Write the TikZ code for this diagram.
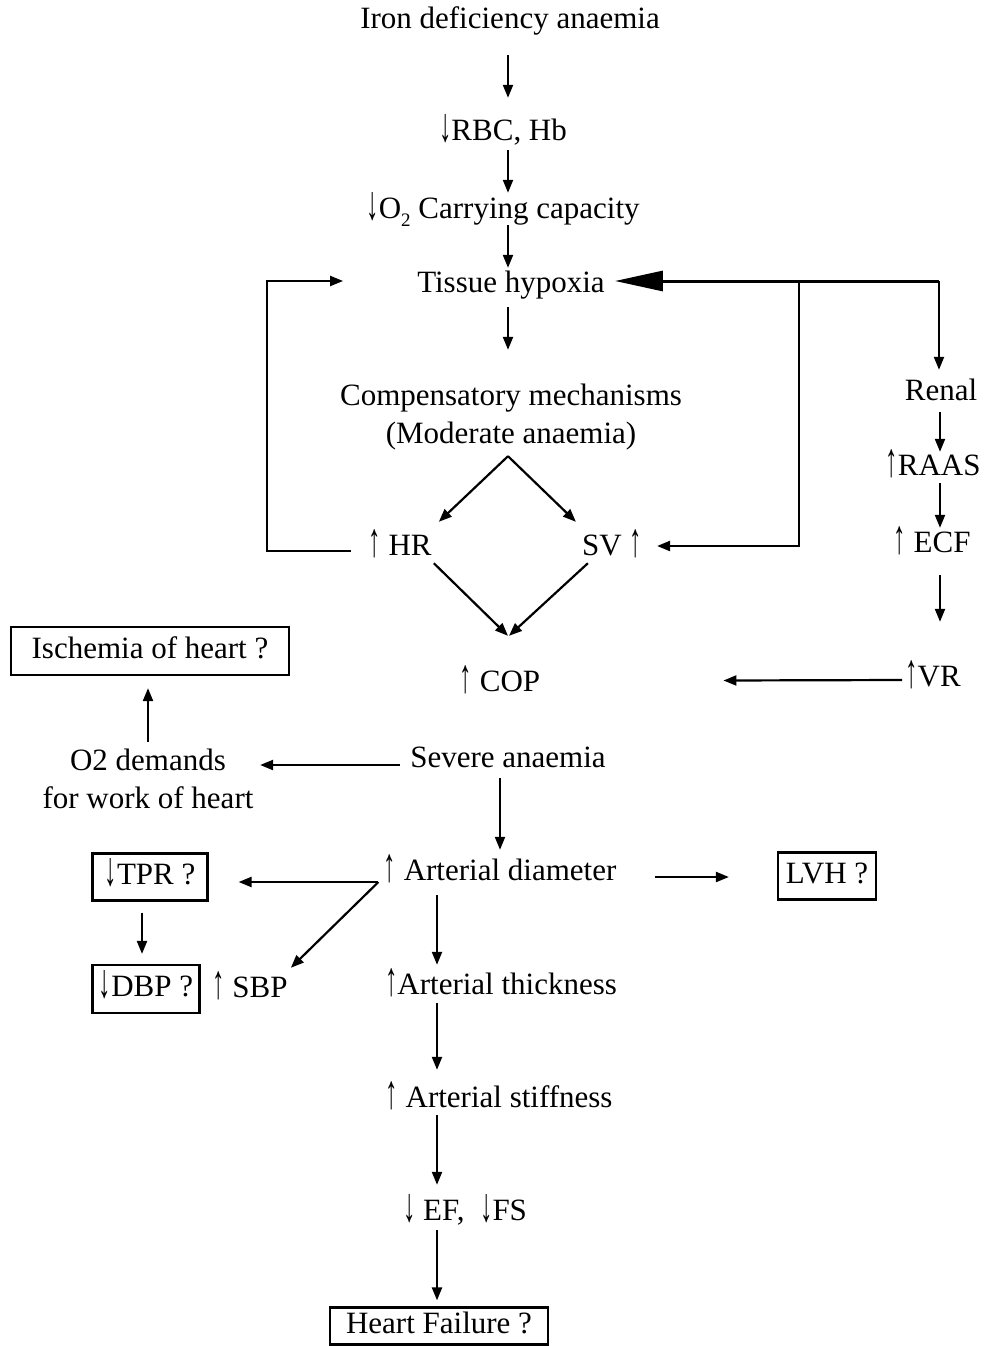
\documentclass[tikz,border=0pt]{standalone}
\usepackage{fontspec}
\usepackage{graphicx}
\setmainfont{Liberation Serif}
\usetikzlibrary{arrows.meta,calc}
\newcommand{\uparw}{\raisebox{-1.5pt}{\scalebox{0.8}[1.55]{↑}}}
\newcommand{\dnarw}{\raisebox{-1.5pt}{\scalebox{0.8}[1.55]{↓}}}
\newcommand{\lowtwo}{\raisebox{-8pt}{\fontsize{19}{22}\selectfont 2}}
\begin{document}
\begin{tikzpicture}[x=1pt,y=-1pt,
  txt/.style={inner sep=0pt, text height=21pt, text depth=7pt, font=\fontsize{31}{37}\selectfont},
  boxed/.style={txt, draw, line width=2.2pt},
  arr/.style={line width=2.2pt, -{Triangle[length=13pt,width=10pt]}},
  bigarr/.style={line width=3pt, -{Triangle[length=48pt,width=20pt]}}]
\useasboundingbox (0,0) rectangle (985,1346);
% columns
\coordinate (cA) at (508,0);
\coordinate (cB) at (500,0);
\coordinate (cC) at (437,0);
\coordinate (cR) at (940,0);
\coordinate (cL) at (142,0);
\coordinate (lc) at (267,281);
\coordinate (j1) at (939,281);
\coordinate (j2) at (799,281);
% nodes
\node[txt] (iron) at (510,22) {Iron deficiency anaemia};
\node[txt] (rbc) at (503,133) {\dnarw RBC, Hb};
\node[txt] (o2) at (503,211) {\dnarw O\lowtwo{} Carrying capacity};
\node[txt] (tissue) at (511,285) {Tissue hypoxia};
\node[txt] (comp1) at (511,398) {Compensatory mechanisms};
\node[txt] (comp2) at (511,436) {(Moderate anaemia)};
\node[txt] (hr) at (400,548) {\uparw{} HR};
\node[txt] (sv) at (612,548) {SV \uparw};
\node[txt] (cop) at (500,684) {\uparw{} COP};
\node[txt] (renal) at (941,393) {Renal};
\node[txt] (raas) at (933,468) {\uparw RAAS};
\node[txt] (ecf) at (932,545) {\uparw{} ECF};
\node[txt] (vr) at (933,679) {\uparw VR};
\node[boxed, minimum width=278pt, minimum height=48pt] (isch) at (150,651) {Ischemia of heart ?};
\node[txt] (o2d1) at (148,763) {O2 demands};
\node[txt] (o2d2) at (148,801) {for work of heart};
\node[txt] (severe) at (508,760) {Severe anaemia};
\node[txt] (artd) at (500,873) {\uparw{} Arterial diameter};
\node[boxed, minimum width=98pt, minimum height=47pt] (lvh) at (827,876) {LVH ?};
\node[boxed, minimum width=115pt, minimum height=47pt] (tpr) at (150,877) {\dnarw TPR ?};
\node[boxed, minimum width=107pt, minimum height=48pt] (dbp) at (146,989) {\dnarw DBP ?};
\node[txt] (sbp) at (250,990) {\uparw{} SBP};
\node[txt] (artt) at (501,987) {\uparw Arterial thickness};
\node[txt] (arts) at (499,1100) {\uparw{} Arterial stiffness};
\node[txt] (ef) at (465,1213) {\dnarw{} EF,\ \ \dnarw FS};
\node[boxed, minimum width=218pt, minimum height=37pt] (hf) at (439,1326) {Heart Failure ?};
% main chain
\draw[arr, shorten <=19pt, shorten >=21pt] (iron.south -| cA) -- (rbc.north -| cA);
\draw[arr, shorten <=3pt, shorten >=4pt] (rbc.south -| cA) -- (o2.north -| cA);
\draw[arr, shorten >=3pt] (o2.south -| cA) -- (tissue.north -| cA);
\draw[arr, shorten <=8pt, shorten >=34pt] (tissue.south -| cA) -- (comp1.north -| cA);
\draw[arr] ($(comp2.south -| cA)+(0,6)$) -- ($(hr.north east)+(7,-12)$);
\draw[arr] ($(comp2.south -| cA)+(0,6)$) -- ($(sv.north west)+(-6,-12)$);
\draw[arr] ($(hr.south east)+(2,1)$) -- ($(cop.north)+(8,-34)$);
\draw[arr] ($(sv.south west)+(6,1)$) -- ($(cop.north)+(9,-34)$);
% left feedback loop
\draw[arr] ($(hr.west)+(-17,3)$) -| (lc) -- ($(tissue.west)+(-74,-4)$);
% right feedback
\draw[bigarr] (j1) -- ($(tissue.east)+(10,-4)$);
\draw[arr, shorten >=9pt] (j1) -- (j1 |- renal.north);
\draw[arr, line join=miter] (j2) |- ($(sv.east)+(15,-2)$);
\draw[arr, shorten <=5pt, shorten >=2pt] (renal.south -| cR) -- (raas.north -| cR);
\draw[arr, shorten <=1pt, shorten >=3pt] (raas.south -| cR) -- (ecf.north -| cR);
\draw[arr, shorten <=16pt, shorten >=43pt] (ecf.south -| cR) -- (vr.north -| cR);
\draw[arr, shorten >=183pt] ($(vr.west)+(-3,1)$) -- ($(cop.east)+(0,-3)$);
% severe anaemia
\draw[arr] ($(severe.west)+(-10,5)$) -- ($(o2d1.east)+(34,2)$);
\draw[arr, shorten <=7pt, shorten >=12pt] (o2d1.north) -- (o2d1.north |- isch.south);
\draw[arr, shorten <=4pt, shorten >=9pt] (severe.south -| cB) -- (artd.north -| cB);
\draw[arr] ($(artd.east)+(38,4)$) -- ($(lvh.west)+(-48,1)$);
\draw[arr] ($(artd.west)+(-5,9)$) -- ($(tpr.east)+(30,5)$);
\draw[arr] ($(artd.west)+(-5,9)$) -- ($(sbp.north east)+(3,-8)$);
\draw[arr, shorten <=11pt, shorten >=10pt] (tpr.south -| cL) -- (dbp.north -| cL);
% lower chain
\draw[arr, shorten <=8pt, shorten >=8pt] (artd.south -| cC) -- (artt.north -| cC);
\draw[arr, shorten <=2pt, shorten >=16pt] (artt.south -| cC) -- (arts.north -| cC);
\draw[arr, shorten <=1pt, shorten >=14pt] (arts.south -| cC) -- (ef.north -| cC);
\draw[arr, shorten <=3pt, shorten >=6pt] (ef.south -| cC) -- (hf.north -| cC);
\end{tikzpicture}
\end{document}
